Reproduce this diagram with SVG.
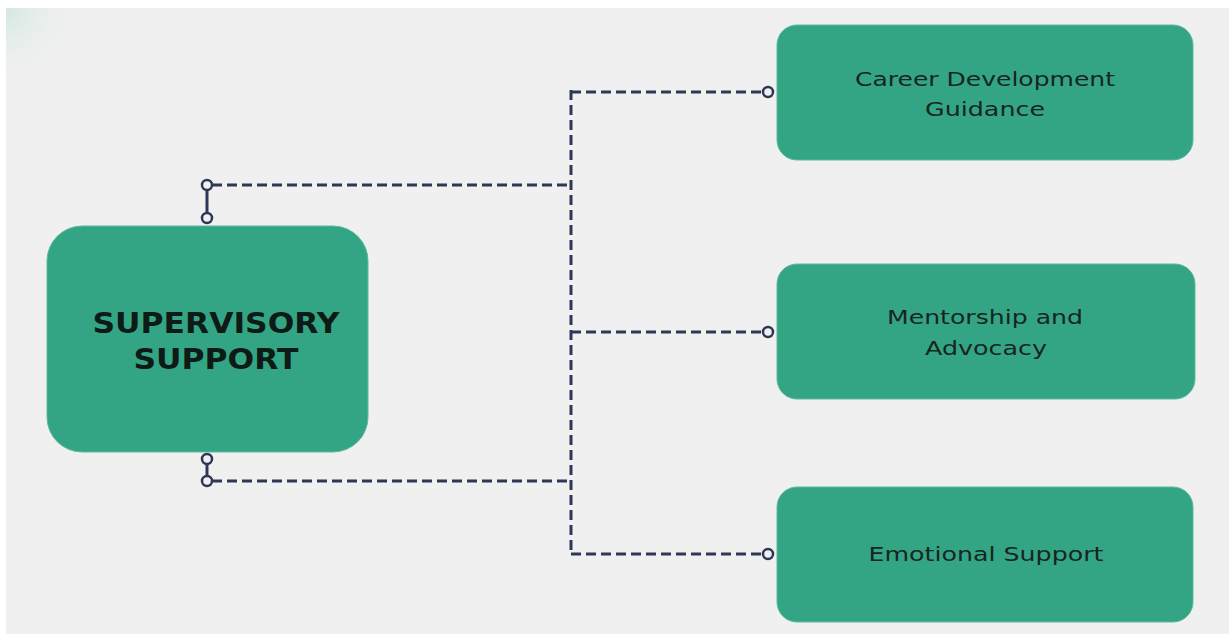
<svg xmlns="http://www.w3.org/2000/svg" width="1229" height="639" viewBox="0 0 1229 639">
  <defs>
    <radialGradient id="corner" cx="6" cy="8" r="80" gradientUnits="userSpaceOnUse">
      <stop offset="0" stop-color="#d3e8df"/>
      <stop offset="1" stop-color="#f0f0f0" stop-opacity="0"/>
    </radialGradient>
    <style>
      .box { fill: #34a584; stroke: #5cb99a; stroke-width: 1; }
      .main-label { font-family: "DejaVu Sans", "Liberation Sans", sans-serif; font-weight: bold; font-size: 28px; fill: #0e1a15; text-anchor: middle; }
      .label { font-family: "DejaVu Sans", "Liberation Sans", sans-serif; font-size: 20px; fill: #16261f; text-anchor: middle; }
      .dash { fill: none; stroke: #2e3856; stroke-width: 3; stroke-dasharray: 10 5; }
      .solid { fill: none; stroke: #2e3856; stroke-width: 3; }
      .port { fill: #f0f0f0; stroke: #2e3856; stroke-width: 2.5; }
    </style>
  </defs>
  <rect x="0" y="0" width="1229" height="639" fill="#ffffff"/>
  <rect x="6" y="8" width="1223" height="626" fill="#f0f0f0"/>
  <rect x="6" y="8" width="100" height="90" fill="url(#corner)"/>

  <g id="connectors">
    <path class="dash" d="M571 90 V555"/>
    <path class="dash" d="M212 185 H571"/>
    <path class="dash" d="M212 481 H571"/>
    <path class="dash" d="M571 92 H763"/>
    <path class="dash" d="M571 332 H763"/>
    <path class="dash" d="M571 554 H763"/>
    <path class="solid" d="M207 190 V213"/>
    <path class="solid" d="M207 464 V476"/>
    <circle class="port" cx="207" cy="185" r="5"/>
    <circle class="port" cx="207" cy="218" r="5"/>
    <circle class="port" cx="207" cy="459" r="5"/>
    <circle class="port" cx="207" cy="481" r="5"/>
    <circle class="port" cx="768" cy="92" r="5"/>
    <circle class="port" cx="768" cy="332" r="5"/>
    <circle class="port" cx="768" cy="554" r="5"/>
  </g>

  <g id="supervisory-support">
    <rect class="box" x="47" y="226" width="321" height="226" rx="35"/>
    <text class="main-label" x="216" y="333" textLength="247" lengthAdjust="spacingAndGlyphs">SUPERVISORY</text>
    <text class="main-label" x="216" y="369" textLength="165" lengthAdjust="spacingAndGlyphs">SUPPORT</text>
  </g>

  <g id="career-development">
    <rect class="box" x="777" y="25" width="416" height="135" rx="20"/>
    <text class="label" x="985" y="86" textLength="260" lengthAdjust="spacingAndGlyphs">Career Development</text>
    <text class="label" x="985" y="116" textLength="120" lengthAdjust="spacingAndGlyphs">Guidance</text>
  </g>

  <g id="mentorship">
    <rect class="box" x="777" y="264" width="418" height="135" rx="20"/>
    <text class="label" x="985" y="324" textLength="196" lengthAdjust="spacingAndGlyphs">Mentorship and</text>
    <text class="label" x="986" y="355" textLength="122" lengthAdjust="spacingAndGlyphs">Advocacy</text>
  </g>

  <g id="emotional-support">
    <rect class="box" x="777" y="487" width="416" height="135" rx="20"/>
    <text class="label" x="986" y="561" textLength="235" lengthAdjust="spacingAndGlyphs">Emotional Support</text>
  </g>
</svg>
